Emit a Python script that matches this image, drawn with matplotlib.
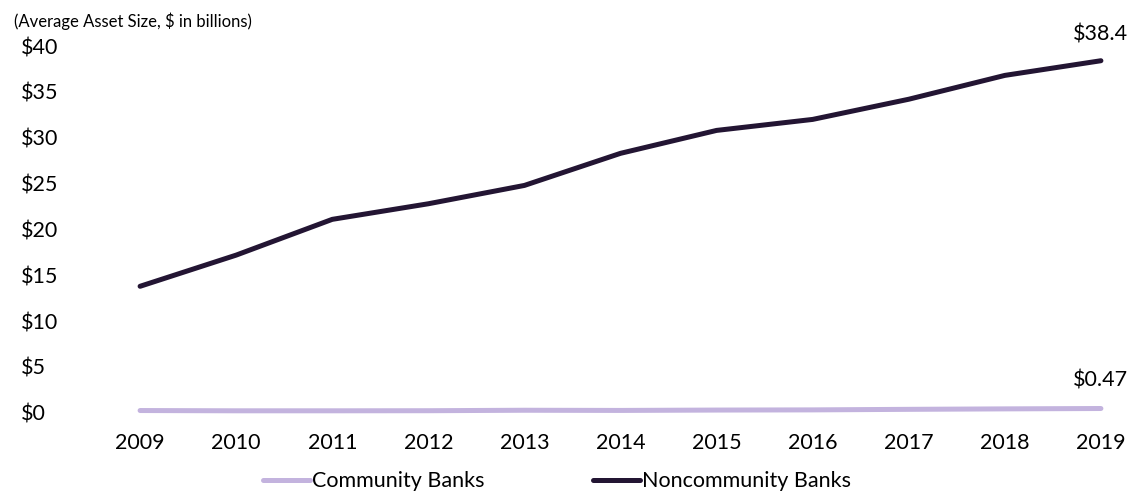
import matplotlib
matplotlib.use("Agg")
import matplotlib.pyplot as plt
from matplotlib.ticker import FuncFormatter

plt.rcParams['font.family'] = ['Lato', 'DejaVu Sans']

years = [2009, 2010, 2011, 2012, 2013, 2014, 2015, 2016, 2017, 2018, 2019]
community = [0.25, 0.22, 0.22, 0.23, 0.28, 0.26, 0.30, 0.32, 0.38, 0.43, 0.47]
noncommunity = [13.8, 17.2, 21.1, 22.8, 24.8, 28.3, 30.8, 32.0, 34.2, 36.8, 38.4]
yticks = [0, 5, 10, 15, 20, 25, 30, 35, 40]

c_comm = '#c3b3de'
c_non = '#231533'

fig = plt.figure(figsize=(11.32, 4.95), dpi=100)
ax = fig.add_axes([0.0898, 0.1475, 0.9082, 0.7965])

ax.plot(years, community, color=c_comm, lw=3.6, solid_capstyle='round', label='Community Banks')
ax.plot(years, noncommunity, color=c_non, lw=3.6, solid_capstyle='round', label='Noncommunity Banks')

ax.set_xlim(2008.6, 2019.3)
ax.set_ylim(-1, 42)
ax.set_yticks(yticks)
ax.yaxis.set_major_formatter(FuncFormatter(lambda v, p: f'${v:.0f}'))
ax.set_xticks(years)
ax.tick_params(axis='both', length=0, labelsize=15.5, colors='black')
ax.tick_params(axis='y', pad=58)
ax.tick_params(axis='x', pad=8)
for lbl in ax.get_yticklabels():
    lbl.set_horizontalalignment('left')
for s in ax.spines.values():
    s.set_visible(False)

ax.annotate(f'${noncommunity[-1]:.1f}', (years[-1], noncommunity[-1]), xytext=(0, 12),
            textcoords='offset points', ha='center', va='bottom', fontsize=15.5)
ax.annotate(f'${community[-1]:.2f}', (years[-1], community[-1]), xytext=(0, 13),
            textcoords='offset points', ha='center', va='bottom', fontsize=15.5)

fig.text(0.012, 0.958, '(Average Asset Size, $ in billions)', fontsize=12, ha='left', va='center')

leg = fig.legend(loc='center', bbox_to_anchor=(0.492, 0.028), ncol=2, frameon=False,
                 fontsize=15.5, handlelength=2.2, handletextpad=0.1, columnspacing=5.0)

fig.savefig('out.png', dpi=100)
